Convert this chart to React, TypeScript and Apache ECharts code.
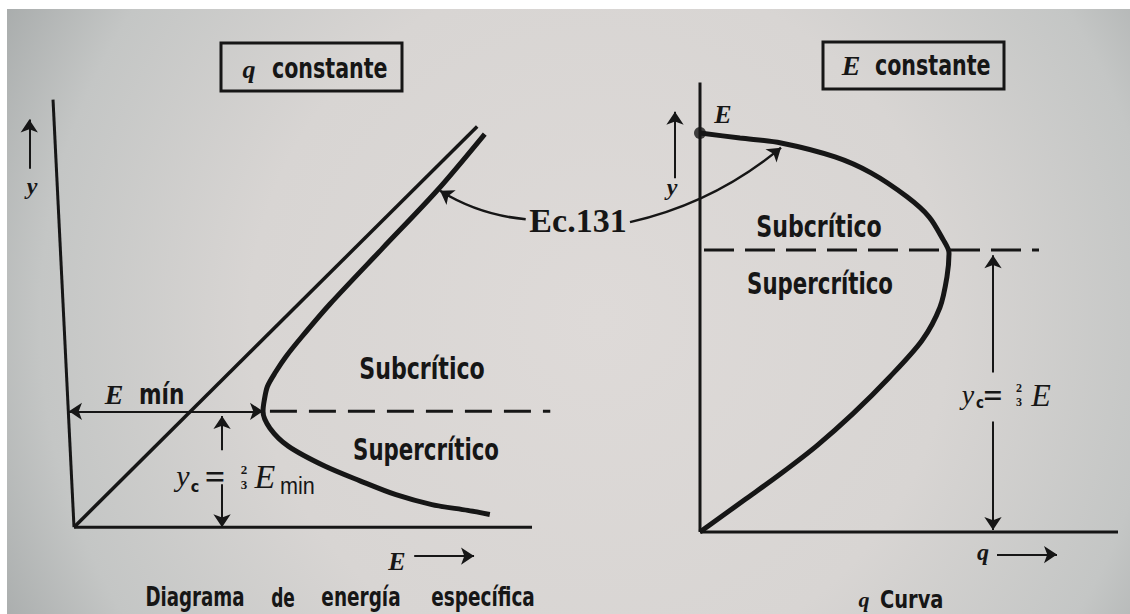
import React, { useEffect, useRef } from "react";
import * as echarts from "echarts";

type Pt = [number, number];

// ---- Left panel: specific energy diagram, q constant (units: yc = 2, Emin = 3) ----
const leftAxisY: Pt[] = [[-0.333, 7.385], [0, 0]];
const leftAxisE: Pt[] = [[0, 0], [7.27, 0]];
const leftAsymptote: Pt[] = [[0, 0], [6.4, 6.92]];
const leftCurve: Pt[] = [
  [6.52, 6.79], [5.76, 5.81], [4.9, 4.82], [4.06, 3.85], [3.61, 3.28],
  [3.36, 2.94], [3.2, 2.68], [3.07, 2.43], [3.02, 2.19], [3.0, 2.0],
  [3.11, 1.71], [3.4, 1.4], [3.97, 1.06], [4.54, 0.8], [5.11, 0.56],
  [5.68, 0.39], [6.25, 0.29], [6.6, 0.22],
];
const leftCritical: Pt[] = [[3.11, 2], [7.56, 2]];
const leftEminArrow: Pt[] = [[-0.08, 2], [3.0, 2]];
const leftYcUp: Pt[] = [[2.35, 1.33], [2.35, 1.92]];
const leftYcDown: Pt[] = [[2.35, 0.74], [2.35, 0.0]];
const leftYArrow: Pt[] = [[-0.71, 6.19], [-0.71, 7.04]];
const leftEArrow: Pt[] = [[5.4, -0.5], [6.35, -0.5]];
const leftEcArrow: Pt[] = [[7.17, 5.32], [5.81, 5.81]];

// ---- Right panel: q curve, E constant ----
const rightAxisY: Pt[] = [[0, 3.38], [0, 0]];
const rightAxisQ: Pt[] = [[0, 0], [4.18, 0]];
const rightCurve: Pt[] = [
  [0, 3.0], [0.4, 2.962], [0.81, 2.925], [1.35, 2.82], [1.71, 2.7],
  [2.07, 2.52], [2.29, 2.37], [2.43, 2.2], [2.49, 2.1], [2.47, 1.92],
  [2.4, 1.69], [2.22, 1.44], [1.89, 1.16], [1.53, 0.89], [1.17, 0.65],
  [0.81, 0.44], [0.45, 0.244], [0.09, 0.049], [0, 0],
];
const rightEPoint: Pt[] = [[0, 3.0]];
const rightCritical: Pt[] = [[0.04, 2.12], [3.39, 2.12]];
const rightYcUp: Pt[] = [[2.93, 1.2], [2.93, 2.08]];
const rightYcDown: Pt[] = [[2.93, 0.83], [2.93, 0.015]];
const rightYArrow: Pt[] = [[-0.25, 2.66], [-0.25, 3.16]];
const rightQArrow: Pt[] = [[2.97, -0.17], [3.57, -0.17]];
const rightEcArrow: Pt[] = [[-0.7, 2.33], [0.81, 2.89]];

const INK = "#161616";
const COND = "'DejaVu Sans Condensed', 'DejaVu Sans', 'Liberation Sans', sans-serif";
const SERIF = "'Liberation Serif', 'DejaVu Serif', serif";

function seg(data: Pt[], idx: number, width: number, extra: any = {}) {
  const { lineStyle, ...rest } = extra;
  return {
    type: "line",
    xAxisIndex: idx,
    yAxisIndex: idx,
    data,
    symbol: "none",
    clip: false,
    silent: true,
    ...rest,
    lineStyle: { color: INK, width, ...(lineStyle || {}) },
  };
}

function arrow(coords: Pt[], idx: number, opts: { both?: boolean; width?: number; curveness?: number; size?: number } = {}) {
  return {
    type: "lines",
    coordinateSystem: "cartesian2d",
    xAxisIndex: idx,
    yAxisIndex: idx,
    silent: true,
    symbol: opts.both ? ["arrow", "arrow"] : ["none", "arrow"],
    symbolSize: opts.size ?? 13,
    lineStyle: { color: INK, width: opts.width ?? 2, curveness: opts.curveness ?? 0, opacity: 1 },
    itemStyle: { color: INK },
    data: [{ coords }],
  };
}

function txt(text: string, x: number, y: number, o: any = {}) {
  return {
    type: "text",
    x,
    y,
    scaleX: o.sx ?? 1,
    silent: true,
    style: {
      text,
      fill: INK,
      align: o.align ?? "center",
      verticalAlign: "middle",
      fontSize: o.size ?? 26,
      fontFamily: o.family ?? COND,
      fontWeight: o.weight ?? "bold",
      fontStyle: o.italic ? "italic" : "normal",
    },
  };
}

function box(x: number, y: number, width: number, height: number) {
  return {
    type: "rect",
    silent: true,
    shape: { x, y, width, height },
    style: { fill: "none", stroke: INK, lineWidth: 3 },
  };
}

export default function App() {
  const ref = useRef<HTMLDivElement>(null);

  useEffect(() => {
    if (!ref.current) return;
    const chart = echarts.init(ref.current, undefined, { renderer: "svg" });

    const paper = new echarts.graphic.RadialGradient(
      600, 320, 700,
      [
        { offset: 0, color: "#dedad8" },
        { offset: 0.5, color: "#d8d5d3" },
        { offset: 0.8, color: "#c4c6c5" },
        { offset: 1, color: "#a2a6a6" },
      ],
      true
    );

    chart.setOption({
      animation: false,
      backgroundColor: "#ffffff",
      grid: [
        { left: 11, top: 64, width: 567, height: 555.75, show: false },
        { left: 600, top: 0, width: 530, height: 611.8, show: false },
      ],
      xAxis: [
        { type: "value", gridIndex: 0, min: -1, max: 8, show: false },
        { type: "value", gridIndex: 1, min: -1, max: 4.3, show: false },
      ],
      yAxis: [
        { type: "value", gridIndex: 0, min: -1.5, max: 8, show: false },
        { type: "value", gridIndex: 1, min: -0.6, max: 4, show: false },
      ],
      graphic: [
        {
          type: "rect",
          silent: true,
          z: -10,
          shape: { x: 7, y: 9, width: 1123, height: 605 },
          style: { fill: paper },
        },
        // left panel texts
        box(221, 43, 181, 48),
        txt("q", 249, 69, { family: SERIF, italic: true, size: 26 }),
        txt("constante", 272, 68, { align: "left", size: 29, sx: 0.79 }),
        txt("y", 32, 186, { family: SERIF, italic: true, size: 24 }),
        txt("E", 114, 394, { family: SERIF, italic: true, size: 28 }),
        txt("mín", 139, 394, { align: "left", size: 28, sx: 0.86 }),
        txt("Subcrítico", 422, 369, { size: 30, sx: 0.82 }),
        txt("Supercrítico", 426, 449, { size: 30, sx: 0.79 }),
        txt("y", 183, 475, { family: SERIF, italic: true, size: 30, weight: "normal" }),
        txt("c", 195, 486, { size: 16 }),
        txt("=", 215, 477, { family: SERIF, size: 36, weight: "bold" }),
        txt("2", 244, 469, { family: SERIF, size: 13, weight: "bold" }),
        txt("3", 244, 484, { family: SERIF, size: 13, weight: "bold" }),
        txt("E", 265, 476, { family: SERIF, italic: true, size: 34, weight: "normal" }),
        txt("min", 280, 486, { align: "left", family: "'Liberation Sans', sans-serif", weight: "normal", size: 24, sx: 0.9 }),
        txt("E", 397, 561, { family: SERIF, italic: true, size: 26 }),
        txt("Diagrama", 195, 597, { size: 27, sx: 0.75 }),
        txt("de", 283, 597, { size: 27, sx: 0.7 }),
        txt("energía", 361, 597, { size: 27, sx: 0.76 }),
        txt("específica", 483, 597, { size: 27, sx: 0.76 }),
        txt("Ec.131", 578, 220, { family: SERIF, size: 34 }),
        // right panel texts
        box(823, 42, 181, 47),
        txt("E", 851, 65, { family: SERIF, italic: true, size: 28 }),
        txt("constante", 875, 65, { align: "left", size: 29, sx: 0.79 }),
        txt("E", 723, 114, { family: SERIF, italic: true, size: 26 }),
        txt("y", 672, 187, { family: SERIF, italic: true, size: 24 }),
        txt("Subcrítico", 819, 227, { size: 30, sx: 0.82 }),
        txt("Supercrítico", 820, 283, { size: 30, sx: 0.79 }),
        txt("y", 968, 394, { family: SERIF, italic: true, size: 28, weight: "normal" }),
        txt("c", 980, 403, { size: 15 }),
        txt("=", 993, 395, { family: SERIF, size: 34, weight: "bold" }),
        txt("2", 1019, 388, { family: SERIF, size: 12, weight: "bold" }),
        txt("3", 1019, 402, { family: SERIF, size: 12, weight: "bold" }),
        txt("E", 1041, 395, { family: SERIF, italic: true, size: 32, weight: "normal" }),
        txt("q", 983, 552, { family: SERIF, italic: true, size: 24 }),
        txt("q", 864, 599, { family: SERIF, italic: true, size: 22 }),
        txt("Curva", 880, 600, { align: "left", size: 24, sx: 0.9 }),
      ],
      series: [
        // left panel
        seg(leftAxisY, 0, 3),
        seg(leftAxisE, 0, 3),
        seg(leftAsymptote, 0, 3.5),
        seg(leftCurve, 0, 5, { smooth: 0.3 }),
        seg(leftCritical, 0, 3, { lineStyle: { type: [27, 12] } }),
        arrow(leftEminArrow, 0, { both: true }),
        arrow(leftYcUp, 0),
        arrow(leftYcDown, 0),
        arrow(leftYArrow, 0),
        arrow(leftEArrow, 0),
        arrow(leftEcArrow, 0, { curveness: 0.12, width: 2.5 }),
        // right panel
        seg(rightAxisY, 1, 3),
        seg(rightAxisQ, 1, 3),
        seg(rightCurve, 1, 5, { smooth: 0.3 }),
        seg(rightCritical, 1, 3, { lineStyle: { type: [30, 11] } }),
        {
          type: "scatter",
          xAxisIndex: 1,
          yAxisIndex: 1,
          data: rightEPoint,
          symbolSize: 12,
          silent: true,
          itemStyle: { color: INK },
          z: 5,
        },
        arrow(rightYcUp, 1),
        arrow(rightYcDown, 1),
        arrow(rightYArrow, 1),
        arrow(rightQArrow, 1),
        arrow(rightEcArrow, 1, { curveness: -0.12, width: 2.5 }),
      ],
    });

    return () => chart.dispose();
  }, []);

  return (
    <div
      ref={ref}
      style={{ position: "fixed", left: 0, top: 0, width: 1130, height: 614 }}
    />
  );
}
